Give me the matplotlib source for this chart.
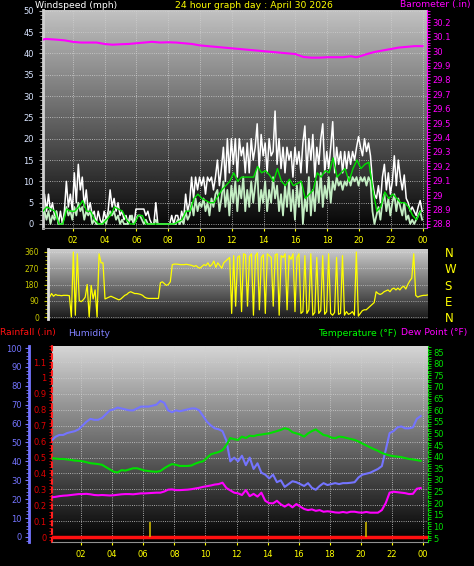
import numpy as np
import matplotlib
matplotlib.use('Agg')
import matplotlib.pyplot as plt
from matplotlib.ticker import MultipleLocator, FixedLocator, FuncFormatter

# values, x = hours since midnight
baro_t = [0.1, 0.3, 1, 1.5, 2, 2.5, 3, 3.5, 4, 4.5, 5, 5.5, 6, 6.5, 7, 7.5, 8, 8.5, 9, 9.5,
          10, 10.5, 11, 11.5, 12, 12.5, 13, 13.5, 14, 14.5, 15, 15.5, 16, 16.5, 17, 17.5,
          18, 18.5, 19, 19.5, 19.8, 20, 20.5, 21, 21.5, 22, 22.5, 23, 23.5, 24]
baro = [30.08, 30.085, 30.08, 30.075, 30.065, 30.06, 30.06, 30.06, 30.05, 30.045, 30.048,
        30.05, 30.055, 30.06, 30.065, 30.06, 30.062, 30.06, 30.055, 30.05, 30.04, 30.035,
        30.03, 30.025, 30.02, 30.015, 30.01, 30.005, 30.0, 29.995, 29.99, 29.985, 29.98,
        29.96, 29.955, 29.955, 29.958, 29.958, 29.958, 29.965, 29.958, 29.962, 29.98,
        29.995, 30.005, 30.015, 30.025, 30.03, 30.035, 30.035]

wind_t = np.arange(192) * 0.125 + 0.1
gust = [3, 7, 3, 7, 3, 5, 2, 3,
        0, 3, 0, 3, 10, 4, 7, 3,
        12, 5, 14, 8, 11, 4, 8, 3,
        5, 2, 3, 0, 3, 1, 0, 3,
        1, 3, 8, 4, 6, 3, 5, 2,
        3, 1, 2, 0, 2, 1, 0, 3.5,
        3.5, 3.5, 3.5, 3.5, 2, 3, 1, 0,
        0, 5, 0, 0, 0, 0, 0, 0,
        0, 2, 0, 2, 2, 0, 3, 1,
        7, 3, 5, 11, 6, 11, 8, 11,
        9, 11, 7, 11, 10, 11, 8, 11,
        15, 9, 13, 18, 10, 20, 12, 20,
        14, 20, 11, 20, 16, 18, 12, 19,
        12, 20, 15, 18, 23.5, 13, 21, 16,
        19, 12, 20, 16, 17, 26.5, 14, 20,
        13, 18, 12, 18, 15, 17, 11, 18,
        14, 17, 12, 19, 23, 12, 20, 15,
        21, 11, 18, 14, 20, 23.5, 12, 17,
        13, 18, 24, 12, 18, 14, 17, 12,
        17, 13, 17, 14, 17, 15, 18, 20.5,
        18, 16, 20, 17, 19, 16, 10, 7,
        6, 9, 5, 11, 14, 8, 12, 7,
        10, 16, 9, 15, 11, 8, 11.5, 6,
        5, 3, 4, 3, 2, 4, 5.5, 3]
speed = [2, 3, 1, 3, 0, 2, 1, 3,
         0, 0, 0, 2, 4, 2, 3, 1,
         4, 2, 5, 3, 4, 1, 3, 2,
         3, 0, 1, 0, 0, 0, 0, 1,
         0, 2, 3, 2, 3, 1, 2, 0,
         1, 0, 0, 0, 1, 2, 0, 1,
         2, 2, 1, 0, 1, 0, 0, 0,
         0, 1, 0, 0, 0, 0, 0, 0,
         0, 0, 0, 0, 1, 0, 1, 0,
         3, 1, 2, 5, 2, 6, 3, 5,
         4, 6, 3, 5, 2, 6, 4, 7,
         8, 3, 6, 10, 4, 8, 2, 9,
         5, 10, 3, 9, 6, 11, 3, 8,
         4, 10, 5, 9, 13, 3, 8, 5,
         10, 3, 8, 5, 11, 6, 9, 3,
         7, 2, 9, 4, 10, 3, 8, 1,
         9, 4, 10, 0, 6, 3, 11, 2,
         8, 3, 10, 5, 12, 4, 9, 6,
         11, 5, 10, 8, 11, 9, 10, 8,
         10, 9, 11, 9, 11, 10, 11, 9,
         11, 10, 11, 9, 11, 10, 3, 0,
         2, 4, 1, 5, 7, 3, 6, 2,
         5, 7, 3, 6, 4, 2, 5, 1,
         2, 0, 1, 0, 1, 2, 3, 1]
avg_t = np.arange(96) * 0.25 + 0.125
wind_avg = [3, 4, 3.5, 3, 0, 0, 3.5, 3, 3, 4, 5.5, 3, 3, 1, 0, 0,
            1, 2, 4, 3.5, 3, 1, 0, 0, 2, 2, 0, 0, 0, 0, 0, 0,
            0, 0, 0.5, 1, 3, 3, 6, 7, 6, 5.5, 5, 5, 6.5, 8, 9, 10,
            12, 10, 11, 11, 11, 11, 13.5, 12, 12.5, 11.5, 10, 13, 10, 9, 10.5, 9,
            9.5, 10, 6, 7, 8, 12, 11, 12.5, 12, 15.5, 11, 12, 13, 10, 13, 15,
            13, 14, 14.5, 8, 3, 4, 7.5, 6, 7, 6, 5, 5, 4, 2, 1, 3]

wind_dir = [110, 130, 115, 125, 120, 120, 118, 120,
            120, 120, 118, 0, 360, 10, 350, 90,
            85, 95, 110, 180, 0, 175, 100, 150,
            0, 350, 300, 300, 100, 105, 110, 115,
            110, 105, 100, 95, 100, 110, 120, 125,
            135, 140, 135, 130, 130, 128, 125, 120,
            110, 105, 103, 103, 103, 103, 103, 103,
            190, 195, 185, 175, 180, 195, 290, 293,
            293, 292, 290, 290, 290, 292, 290, 288,
            285, 280, 285, 275, 270, 280, 290, 285,
            300, 280, 290, 310, 275, 300, 285, 270,
            300, 310, 320, 330, 20, 340, 60, 330,
            340, 30, 350, 345, 60, 335, 350, 10,
            340, 355, 40, 330, 345, 20, 350, 340,
            330, 60, 345, 350, 10, 340, 330, 350,
            40, 340, 320, 350, 30, 330, 350, 20,
            30, 340, 20, 40, 350, 10, 25, 330,
            20, 35, 340, 15, 30, 350, 20, 10,
            25, 330, 15, 20, 340, 10, 30, 15,
            20, 30, 10, 360, 5, 20, 35, 40,
            40, 50, 60, 70, 80, 140, 130, 125,
            130, 140, 145, 150, 140, 155, 160, 150,
            160, 150, 165, 170, 155, 180, 200, 215,
            350, 120, 110, 115, 118, 120, 120, 122]

thd_t = np.arange(96) * 0.25 + 0.1
humidity = [51, 53, 54, 54, 55, 55.5, 56, 57, 59, 61, 62.5, 62, 62, 63, 65, 67,
            67.5, 68.5, 68, 67.5, 67, 67, 68, 69, 69, 69, 69.5, 70, 72, 71, 67, 66,
            67, 66.5, 67, 67.5, 68, 68, 67, 64, 61, 59, 57.5, 57, 56, 51, 40, 42,
            40, 43, 38, 42, 36, 39, 34, 33, 31, 33, 29, 30, 26.5, 28, 29.5, 29,
            28, 27, 28.5, 26, 25, 27, 28.5, 27.5, 28, 28.5, 28, 28.5, 28.5, 28.7, 29, 31.5,
            33, 33.5, 34, 35, 36, 37.5, 46, 55, 56, 58, 58.5, 57.5, 57.5, 58, 62.5, 64]
temperature = [39.3, 39.2, 39, 39, 38.8, 38.6, 38.3, 38.2, 38, 37.6, 37.2, 37,
               36.8, 36.5, 35.5, 34.5, 33.5, 33.2, 34.2, 34, 34.5, 35, 35, 34.5,
               34, 33.8, 33.6, 33.5, 33.8, 35, 36, 36.8, 36.5, 36, 36, 36,
               36.2, 37, 37.6, 38, 39.5, 41, 41.5, 42, 42.8, 45, 48, 47.5,
               47.2, 48.6, 48, 49, 48.8, 49.3, 49.5, 49.8, 50, 50.5, 51, 51.5,
               52.2, 51.8, 50.5, 50, 49.5, 48.6, 50, 51, 51.7, 50.5, 49.3, 49,
               48.2, 47.9, 48.6, 48.4, 48, 47.6, 47.2, 46.5, 45.6, 44.8, 44, 43.2,
               42.5, 41.6, 41, 40.5, 40.2, 40, 39.8, 39.4, 39, 38.8, 38.5, 38.2]
dewpoint = [22.5, 22.7, 23, 23.2, 23.3, 23.5, 23.7, 23.9, 23.9, 24, 23.8, 23.5,
            23.4, 23.5, 23.4, 23.3, 23.4, 23.6, 23.8, 23.9, 23.9, 23.8, 24, 24.2,
            24.2, 24.3, 24.4, 24.5, 24.5, 25, 25.8, 25.9, 25.6, 25.6, 25.7, 25.8,
            26, 26.3, 26.6, 27, 27.3, 27.6, 28, 28.2, 28.8, 26.5, 25.5, 24.5,
            24.2, 23.5, 25.6, 23, 24, 22.8, 24.5, 21, 20, 19.9, 21, 19.5,
            18.5, 19.5, 18.2, 19.6, 18.5, 17.5, 17, 17.3, 16.7, 17, 16.3, 16.5,
            16.3, 16, 15.9, 16.2, 15.9, 16.3, 16.3, 16, 15.9, 16.2, 15.9, 15.9,
            15.9, 17, 20, 24.5, 24.9, 24.7, 24.5, 24.3, 23.9, 24, 26.2, 26.5]

rain_t = [0, 24.3]
rain = [0, 0]
markers = [6.43, 20.33]

hours = [2, 4, 6, 8, 10, 12, 14, 16, 18, 20, 22, 24]
hour_labels = ['02', '04', '06', '08', '10', '12', '14', '16', '18', '20', '22', '00']
compass = ['N', 'E', 'S', 'W', 'N']

W, H = 474, 566
fig = plt.figure(figsize=(W / 100, H / 100), dpi=100, facecolor='black')
plt.rcParams['font.family'] = 'DejaVu Sans'
TS = 6  # tick label size


def box(x0, y0, x1, y1):
    return [x0 / W, 1 - y1 / H, (x1 - x0) / W, (y1 - y0) / H]


def shade(ax, top, bottom):
    g = np.linspace(top, bottom, 256).reshape(-1, 1)
    ax.imshow(g, cmap='gray', vmin=0, vmax=1, extent=[0, 1, 0, 1],
              transform=ax.transAxes, aspect='auto', zorder=0)


def ftxt(x, y, s, c, ha='left', size=6.7):
    fig.text(x / W, 1 - y / H, s, color=c, ha=ha, va='center', fontsize=size)


fmt = FuncFormatter(lambda v, p: '%g' % round(v, 3))

# ---- wind + barometer
ax = fig.add_axes(box(43, 10, 427, 228))
ax.set_facecolor('black')
shade(ax, 0.76, 0.02)
ax.plot(wind_t, gust, color='white', lw=1.1, zorder=2)
ax.plot(wind_t, speed, color='#c4eec4', lw=1.3, zorder=3)
ax.plot(avg_t, wind_avg, color='#00e000', lw=1.0, zorder=4)
ax.set_xlim(0.13, 24.28)
ax.set_ylim(-0.94, 50.2)
ax.set_xticks(hours)
ax.set_xticklabels(hour_labels)
ax.yaxis.set_major_locator(MultipleLocator(5))
ax.yaxis.set_minor_locator(MultipleLocator(1))
ax.tick_params(axis='x', colors='#ffff00', labelsize=TS, length=2, pad=4)
ax.tick_params(axis='y', which='both', colors='#b0b0b0', labelcolor='#d8e4ff',
               labelsize=TS, length=3)
ax.tick_params(axis='y', which='minor', length=2)
ax.grid(True, color='#d0d0d0', ls=':', lw=0.6)
for s in ['top', 'right']:
    ax.spines[s].set_visible(False)
ax.spines['left'].set_color('#d0d0d0')
ax.spines['left'].set_linewidth(2)
ax.spines['bottom'].set_color('#909090')

axb = ax.twinx()
axb.plot(baro_t, baro, color='#ff00ff', lw=1.5)
axb.set_ylim(28.772, 30.286)
axb.yaxis.set_major_locator(MultipleLocator(0.1))
axb.yaxis.set_minor_locator(MultipleLocator(0.02))
axb.yaxis.set_major_formatter(fmt)
axb.tick_params(axis='y', which='both', colors='#ff00ff', labelsize=TS, length=2, pad=2)
for s in ['top', 'left', 'bottom']:
    axb.spines[s].set_visible(False)
axb.spines['right'].set_color('#ff00ff')

ftxt(35, 5, 'Windspeed (mph)', 'white')
ftxt(254, 5, '24 hour graph day : April 30 2026', '#ffff00', ha='center')
ftxt(471, 5, 'Barometer (.in)', '#ff00ff', ha='right')

# ---- wind direction
axd = fig.add_axes(box(48, 249, 428, 319))
axd.set_facecolor('black')
shade(axd, 0.8, 0.1)
axd.plot(wind_t, wind_dir, color='#ffff00', lw=0.9, zorder=2)
axd.set_xlim(0, 24)
axd.set_ylim(-11, 376.6)
axd.set_xticks([])
axd.set_yticks([0, 90, 180, 270, 360])
axd.yaxis.set_minor_locator(MultipleLocator(22.5))
axd.tick_params(axis='y', which='both', colors='#c8c800', labelsize=5.5, length=3)
axd.tick_params(axis='y', which='minor', length=2)
axd.grid(True, axis='y', color='#e0e0e0', ls=':', lw=0.5)
for s in ['top', 'right', 'bottom']:
    axd.spines[s].set_visible(False)
axd.spines['left'].set_color('#e0e0e0')
axd.spines['left'].set_linewidth(2)
axc = axd.twinx()
axc.set_ylim(axd.get_ylim())
axc.set_yticks([0, 90, 180, 270, 360])
axc.set_yticklabels(compass)
axc.tick_params(axis='y', colors='#ffff00', labelsize=8.5, length=0, pad=12)
for s in axc.spines.values():
    s.set_visible(False)

# ---- rain / humidity / temperature / dew point
axr = fig.add_axes(box(52, 346, 428, 542))
axr.set_facecolor('black')
shade(axr, 0.84, 0.0)
axr.plot(rain_t, rain, color='#ff1010', lw=2.5, zorder=3)
axr.vlines(markers, 0, 0.095, color='#c8b400', lw=1.2, zorder=4)
axr.set_xlim(0.13, 24.32)
axr.set_ylim(-0.031, 1.201)
axr.set_xticks(hours)
axr.set_xticklabels(hour_labels)
axr.yaxis.set_major_locator(FixedLocator(np.arange(0, 1.15, 0.1)))
axr.yaxis.set_minor_locator(MultipleLocator(0.02))
axr.yaxis.set_major_formatter(fmt)
axr.tick_params(axis='x', colors='#ffff00', labelsize=TS, length=2, pad=4)
axr.tick_params(axis='y', which='both', colors='#e00000', labelsize=TS, length=2, pad=2)
axr.grid(True, color='#d0d0d0', ls=':', lw=0.6)
for s in ['top', 'right']:
    axr.spines[s].set_visible(False)
axr.spines['left'].set_color('#ff2020')
axr.spines['left'].set_linestyle((0, (2, 2)))
axr.spines['left'].set_linewidth(1.5)
axr.spines['bottom'].set_color('#909090')

axh = axr.twinx()
axh.plot(thd_t, humidity, color='#7474ff', lw=1.5)
axh.set_ylim(-2.65, 101.06)
axh.yaxis.set_ticks_position('left')
axh.yaxis.set_label_position('left')
axh.spines['left'].set_position(('outward', 16.6))
axh.spines['left'].set_visible(True)
axh.spines['left'].set_color('#7474ff')
axh.spines['left'].set_linewidth(2)
for s in ['top', 'right', 'bottom']:
    axh.spines[s].set_visible(False)
axh.yaxis.set_major_locator(MultipleLocator(10))
axh.yaxis.set_minor_locator(MultipleLocator(2))
axh.tick_params(axis='y', which='both', colors='#7474ff', labelsize=TS, length=3, pad=2)
axh.tick_params(axis='y', which='minor', length=2)

axt = axr.twinx()
axt.plot(thd_t, temperature, color='#00e000', lw=1.5)
axt.plot(thd_t, dewpoint, color='#ff00ff', lw=1.5)
axt.set_ylim(3.28, 87.6)
axt.yaxis.set_major_locator(MultipleLocator(5))
axt.yaxis.set_minor_locator(MultipleLocator(1))
axt.tick_params(axis='y', which='both', colors='#00e000', labelsize=TS, length=2, pad=2)
for s in ['top', 'left', 'bottom']:
    axt.spines[s].set_visible(False)
axt.spines['right'].set_color('#00e000')
axt.spines['right'].set_linestyle((0, (2, 2)))

ftxt(0, 333, 'Rainfall (.in)', '#ff1010')
ftxt(68, 333, 'Humidity', '#8080ff')
ftxt(318, 333, 'Temperature (°F)', '#00ff00')
ftxt(401, 333, 'Dew Point (°F)', '#ff00ff')

fig.savefig('out.png', dpi=100, facecolor='black')
